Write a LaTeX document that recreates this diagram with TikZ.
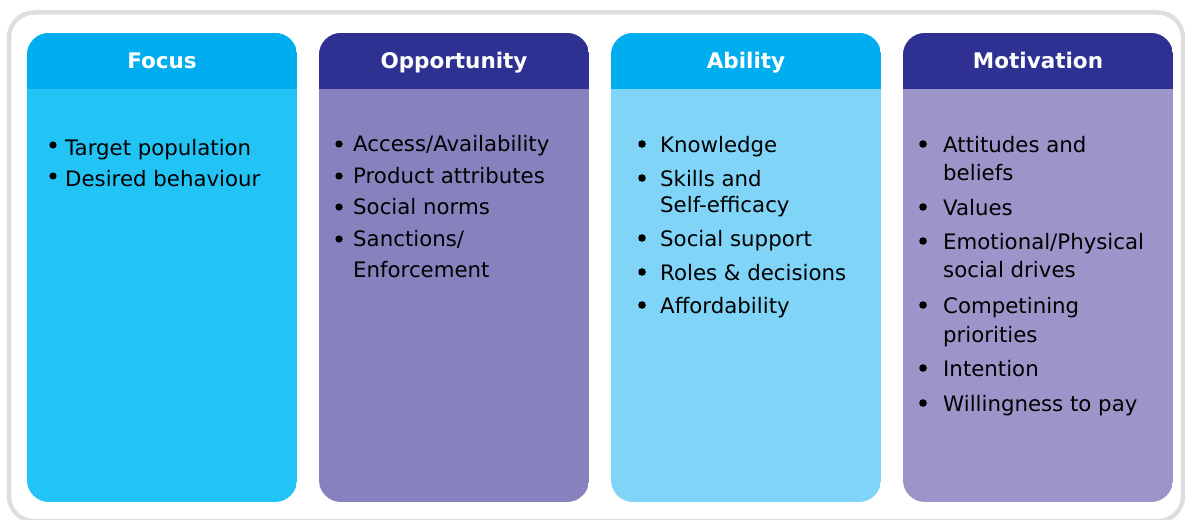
\documentclass[tikz,border=0pt]{standalone}
\usepackage{fontspec}
\setmainfont{DejaVu Sans}
\usetikzlibrary{positioning}

\definecolor{framegray}{HTML}{DEDEDE}
\definecolor{cyanhead}{HTML}{00AEEF}
\definecolor{navyhead}{HTML}{2E3192}
\definecolor{focusbody}{HTML}{21C4F4}
\definecolor{oppbody}{HTML}{8782BE}
\definecolor{abilbody}{HTML}{80D4F7}
\definecolor{motivbody}{HTML}{9C95C9}

\tikzset{frame/.style = {draw=framegray, line width=4.5, rounded corners=25}}
\tikzset{headtext/.style = {anchor=base, text=white,
                            font=\fontsize{21.5}{25}\selectfont\bfseries}}
\tikzset{itemtext/.style = {anchor=base west, inner sep=0,
                            font=\fontsize{21.3}{25}\selectfont}}

\begin{document}
\begin{tikzpicture}[x=1pt, y=-1pt]
      \useasboundingbox (0, 0) rectangle (1185, 519);
      \draw [frame] (9, 12.5) rectangle (1183, 521);

      % the four columns, header band on top
      \foreach \lx/\hc/\bc/\title/\nm in {27/cyanhead/focusbody/Focus/focus,
                                          319/navyhead/oppbody/Opportunity/opp,
                                          611/cyanhead/abilbody/Ability/abil,
                                          903/navyhead/motivbody/Motivation/motiv}{
        \begin{scope}
          \clip [rounded corners=22] (\lx, 33) rectangle ++(270, 469);
          \fill [\bc] (\lx, 33) rectangle ++(270, 469);
          \fill [\hc] (\lx, 33) rectangle ++(270, 56);
        \end{scope}
        \node [headtext] (\nm-head) at (\lx+135, 68) {\title};
      }

      % bullet lists (flag 1 = new item, 0 = wrapped line)
      \foreach \yy/\txt/\b [count=\i] in {155/Target population/1,
                                          186/Desired behaviour/1}{
        \node [itemtext] (focus-\i) at (65, \yy) {\txt};
        \ifnum\b=1 \fill (focus-\i.base west) ++(-12, -10) circle (3.6); \fi
      }
      \foreach \yy/\txt/\b [count=\i] in {151/Access\slash Availability/1,
                                          183/Product attributes/1,
                                          214/Social norms/1,
                                          246/Sanctions\slash/1,
                                          277/Enforcement/0}{
        \node [itemtext] (opp-\i) at (353, \yy) {\txt};
        \ifnum\b=1 \fill (opp-\i.base west) ++(-14, -7) circle (3.6); \fi
      }
      \foreach \yy/\txt/\b [count=\i] in {152/Knowledge/1,
                                          186/Skills and/1,
                                          212/Self-efficacy/0,
                                          246/Social support/1,
                                          280/Roles \& decisions/1,
                                          313/Affordability/1}{
        \node [itemtext] (abil-\i) at (660, \yy) {\txt};
        \ifnum\b=1 \fill (abil-\i.base west) ++(-18, -8) circle (3.8); \fi
      }
      \foreach \yy/\txt/\b [count=\i] in {152/Attitudes and/1,
                                          180/beliefs/0,
                                          215/Values/1,
                                          249/Emotional\slash Physical/1,
                                          277/social drives/0,
                                          313/Competining/1,
                                          342/priorities/0,
                                          376/Intention/1,
                                          411/Willingness to pay/1}{
        \node [itemtext] (motiv-\i) at (943, \yy) {\txt};
        \ifnum\b=1 \fill (motiv-\i.base west) ++(-20, -8) circle (3.8); \fi
      }
    \end{tikzpicture}
\end{document}
